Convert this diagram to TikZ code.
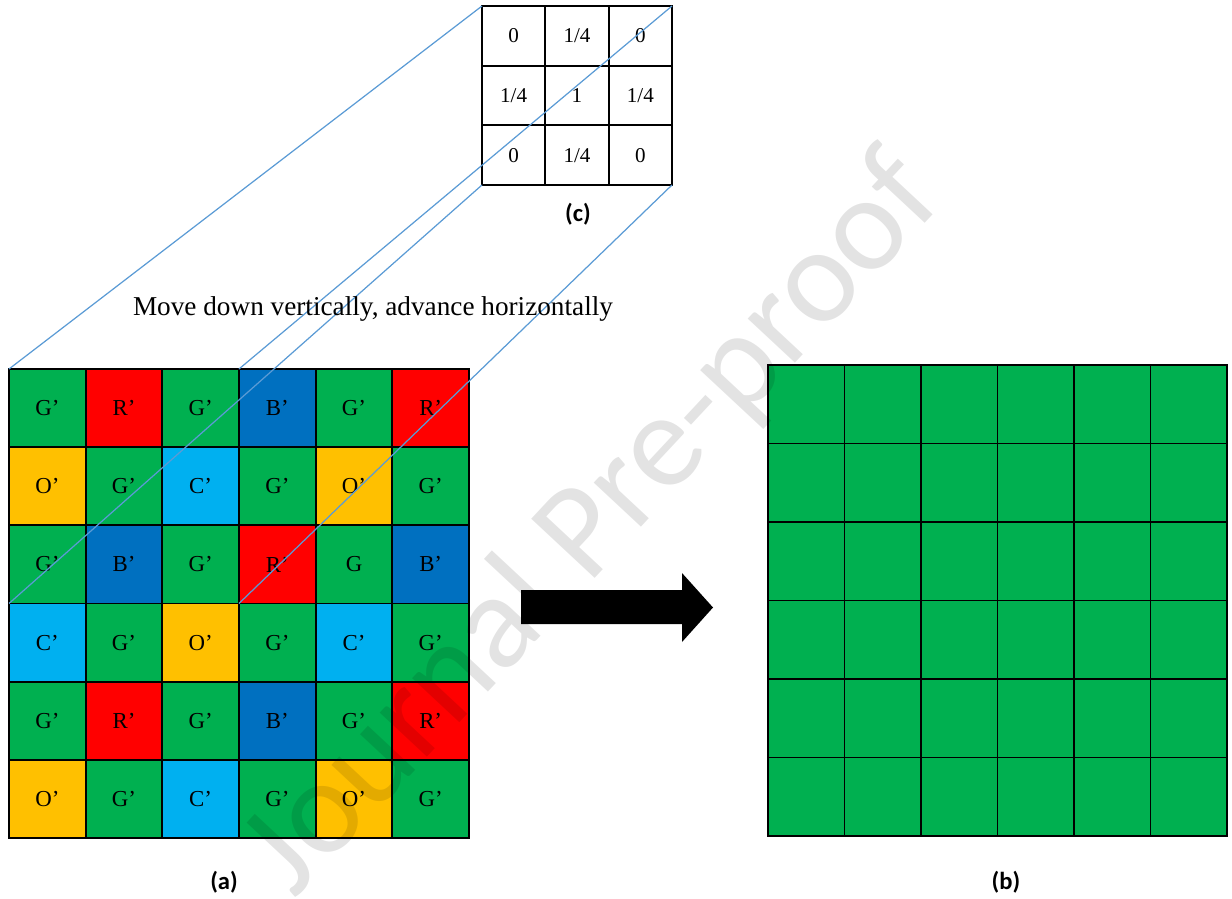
\documentclass[tikz,border=0pt]{standalone}
\usepackage{fontspec}
\setmainfont{Liberation Serif}
\newfontfamily\capfont{Carlito}
\usepackage{tikz}
\usetikzlibrary{positioning, calc}

\begin{document}
\begin{tikzpicture}[x=0.02cm, y=-0.02cm, font=\fontsize{13}{15}\selectfont]
    \definecolor{cg}{RGB}{0, 176, 80} % Green
    \definecolor{cr}{RGB}{255, 0, 0} % Red
    \definecolor{cb}{RGB}{0, 112, 192} % Blue
    \definecolor{co}{RGB}{255, 192, 0} % Orange
    \definecolor{cc}{RGB}{0, 176, 240} % Cyan
    \definecolor{cl}{RGB}{91, 155, 213} % Projection lines
    \tikzset{
        pix/.style={draw=black, line width=1.1pt, anchor=north west, outer sep=0pt, inner sep=0pt, minimum width=1.533cm, minimum height=1.563cm},
        ker/.style={draw=black, line width=1pt, anchor=north west, outer sep=0pt, inner sep=0pt, minimum width=1.267cm, minimum height=1.193cm, font=\fontsize{12}{14}\selectfont},
        figlabel/.style={font=\capfont\bfseries\fontsize{14}{16}\selectfont},
        proj/.style={cl, line width=0.7pt}
    }
    \useasboundingbox (0,0) rectangle (1232,899);

    % Input mosaic (a)
    \foreach \row [count=\r from 0] in {
        {cg/G',cr/R',cg/G',cb/B',cg/G',cr/R'},
        {co/O',cg/G',cc/C',cg/G',co/O',cg/G'},
        {cg/G',cb/B',cg/G',cr/R',cg/G,cb/B'},
        {cc/C',cg/G',co/O',cg/G',cc/C',cg/G'},
        {cg/G',cr/R',cg/G',cb/B',cg/G',cr/R'},
        {co/O',cg/G',cc/C',cg/G',co/O',cg/G'}}
        \foreach \col/\txt [count=\c from 0] in \row
            \node[pix, fill=\col] (a-\r-\c) at ({9+76.67*\c},{369+78.17*\r}) {\txt};

    % Kernel (c)
    \foreach \row [count=\r from 0] in {{0,1/4,0},{1/4,1,1/4},{0,1/4,0}}
        \foreach \txt [count=\c from 0] in \row
            \node[ker] (k-\r-\c) at ({482+63.33*\c},{6+59.67*\r}) {\txt};

    % Projection of the kernel on the 3x3 window
    \draw[proj] (k-0-0.north west) -- (a-0-0.north west);
    \draw[proj] (k-0-2.north east) -- (a-0-2.north east);
    \draw[proj] (k-2-0.south west) -- (a-2-0.south west);
    \draw[proj] (k-2-2.south east) -- (a-2-2.south east);

    % Output mosaic (b)
    \foreach \r in {0,...,5}
        \foreach \c in {0,...,5}
            \node[pix, fill=cg, minimum width=1.53cm, minimum height=1.57cm] (b-\r-\c) at ({768+76.5*\c},{365+78.5*\r}) {};

    % Arrow
    \fill[black] (521,590) -- (682,590) -- (682,573) -- (713,607.5) -- (682,642) -- (682,624) -- (521,624) -- cycle;

    % Labels
    \node (title) at (373,309) {\fontsize{15.5}{18}\selectfont Move down vertically, advance horizontally};
    \node[figlabel] (c-lab) at (578,214) {(c)};
    \node[figlabel] (a-lab) at (224,882) {(a)};
    \node[figlabel] (b-lab) at (1006,882) {(b)};

    % Watermark
    \node[rotate=47, text=black, text opacity=0.11, font=\capfont\fontsize{77}{80}\selectfont] (wm) at (594,526) {Journal Pre-proof};
\end{tikzpicture}
\end{document}
